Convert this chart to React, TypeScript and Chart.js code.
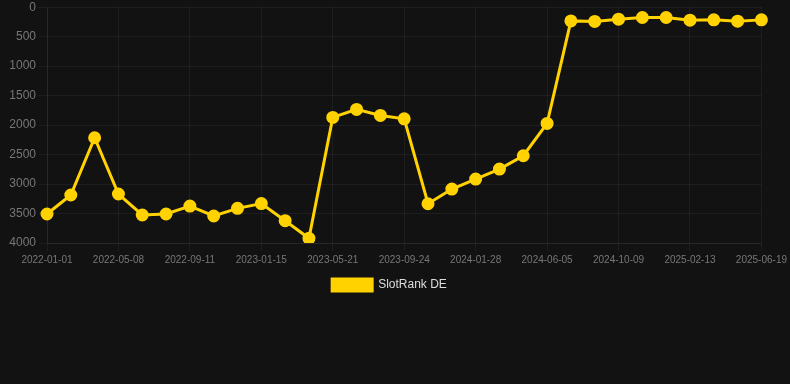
import React, { useEffect, useRef } from "react";
import { Chart, registerables } from "chart.js";

Chart.register(...registerables);

const labels: string[] = [
  "2022-01-01", "2022-02-12", "2022-03-26", "2022-05-08", "2022-06-19", "2022-07-31",
  "2022-09-11", "2022-10-23", "2022-12-04", "2023-01-15", "2023-02-26", "2023-04-09",
  "2023-05-21", "2023-07-02", "2023-08-13", "2023-09-24", "2023-11-05", "2023-12-17",
  "2024-01-28", "2024-03-10", "2024-04-22", "2024-06-05", "2024-07-17", "2024-08-28",
  "2024-10-09", "2024-11-20", "2025-01-01", "2025-02-13", "2025-03-27", "2025-05-08",
  "2025-06-19",
];

const slotRankDE: number[] = [
  3508, 3186, 2215, 3169, 3525, 3508, 3373, 3542, 3412, 3331, 3622, 3920,
  1869, 1734, 1836, 1893, 3334, 3085, 2915, 2746, 2520, 1971,
  232, 242, 203, 175, 175, 220, 215, 237, 215,
];

const seriesLabel = "SlotRank DE";
const yTicks = { min: 0, max: 4000, step: 500 };

const FONT = "'Liberation Sans', Arial, sans-serif";
const GRID = "rgba(255,255,255,0.05)";

export default function App() {
  const ref = useRef<HTMLCanvasElement | null>(null);
  useEffect(() => {
    if (!ref.current) return;
    const chart = new Chart(ref.current, {
      type: "line",
      data: {
        labels,
        datasets: [
          {
            label: seriesLabel,
            data: slotRankDE,
            borderColor: "#ffd200",
            backgroundColor: "#ffd200",
            pointBackgroundColor: "#ffd200",
            pointBorderColor: "#ffd200",
            borderWidth: 3,
            pointRadius: 5,
            tension: 0,
          },
        ],
      },
      options: {
        animation: false,
        responsive: false,
        maintainAspectRatio: false,
        layout: { padding: 0 },
        plugins: {
          legend: {
            position: "bottom",
            labels: {
              color: "#dddddd",
              font: { family: FONT, size: 12 },
              boxWidth: 40,
              boxHeight: 12,
            },
          },
          tooltip: { enabled: false },
        },
        scales: {
          x: {
            grid: { color: GRID, tickColor: GRID },
            border: { color: GRID },
            ticks: {
              color: "#777777",
              autoSkip: false,
              maxRotation: 0,
              font: { family: FONT, size: 10 },
              callback: (_v: any, i: number) => (i % 3 === 0 ? labels[i] : null),
            },
          },
          y: {
            reverse: true,
            min: yTicks.min,
            max: yTicks.max,
            afterFit: (scale: any) => {
              scale.width = 58;
            },
            grid: { color: GRID, tickColor: GRID },
            border: { color: GRID },
            ticks: {
              stepSize: yTicks.step,
              color: "#777777",
              font: { family: FONT, size: 12 },
              callback: (v: any) => String(v),
            },
          },
        },
      },
    });
    return () => chart.destroy();
  }, []);
  return (
    <div style={{ position: "fixed", left: 0, top: 0, width: 790, height: 384, background: "#121212", overflow: "hidden" }}>
      <canvas ref={ref} width={801} height={304} style={{ display: "block", position: "absolute", left: -11, top: -3 }} />
    </div>
  );
}
